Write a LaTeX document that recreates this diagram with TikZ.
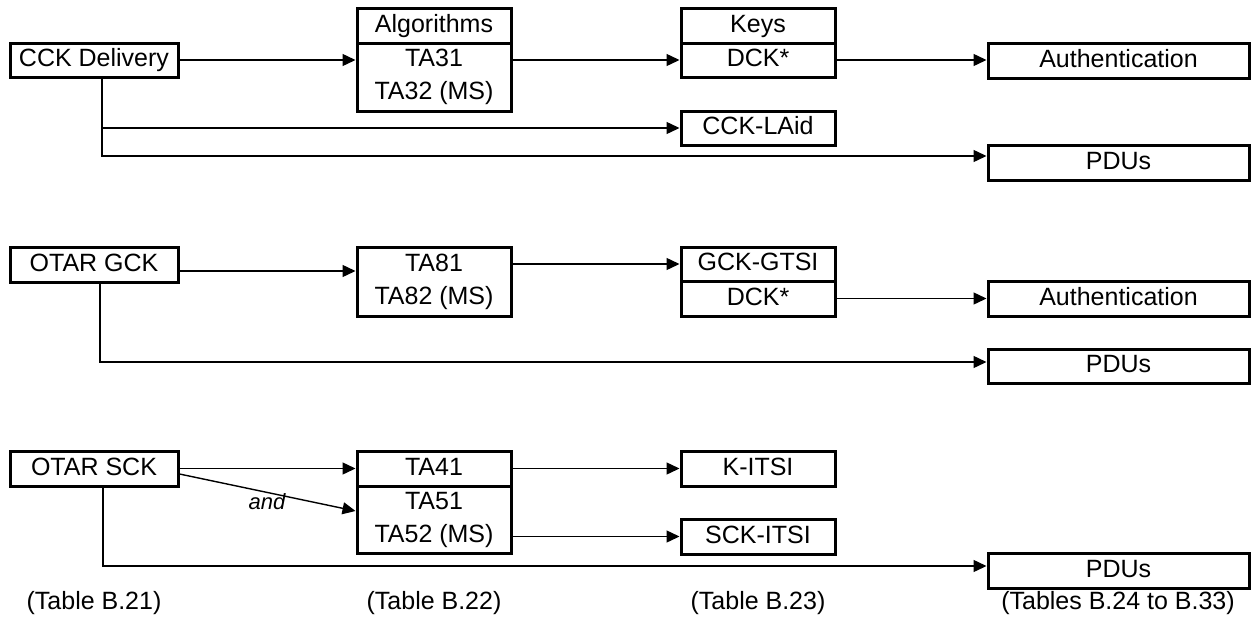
\documentclass[tikz,border=0pt]{standalone}
\usepackage{fontspec}
\setmainfont{Liberation Sans}
\usetikzlibrary{arrows.meta}
\tikzset{
  bx/.style={draw, line width=3pt, inner sep=0pt, font=\fontsize{25}{33}\selectfont},
  onebx/.style={bx, text height=18pt, text depth=5pt},
  twobx/.style={bx, align=center},
  conn/.style={line width=1.4pt, -{Triangle[length=13pt,width=12pt]}},
  lbl/.style={font=\fontsize{25}{30}\selectfont, inner sep=0pt},
  andlbl/.style={font=\itshape\fontsize{22}{26}\selectfont, inner sep=0pt}
}
\begin{document}
\begin{tikzpicture}[x=1pt, y=-1pt]
\useasboundingbox (0,0) rectangle (1252,621);
% Row 1
\node[onebx, minimum width=168pt, minimum height=34pt] (cck) at (94,60) {CCK Delivery};
\node[onebx, minimum width=154pt, minimum height=35pt] (alghead) at (434,25.5) {Algorithms};
\node[twobx, minimum width=154pt, minimum height=68pt] (algbody) at (434,77) {TA31\\TA32 (MS)};
\node[onebx, minimum width=154pt, minimum height=35pt] (keyshead) at (758,25.5) {Keys};
\node[onebx, minimum width=154pt, minimum height=34pt] (keysbody) at (758,60) {DCK*};
\node[onebx, minimum width=261pt, minimum height=35pt] (auth1) at (1118.5,60.5) {Authentication};
\node[onebx, minimum width=154pt, minimum height=34pt] (laid) at (758,128) {CCK-LAid};
\node[onebx, minimum width=261pt, minimum height=35pt] (pdu1) at (1118.5,162.5) {PDUs};
% Row 2
\node[onebx, minimum width=168pt, minimum height=35pt] (gck) at (94,264.5) {OTAR GCK};
\node[twobx, minimum width=154pt, minimum height=69pt] (ta8) at (434,281.5) {TA81\\TA82 (MS)};
\node[onebx, minimum width=154pt, minimum height=34pt] (gtsi) at (758,264) {GCK-GTSI};
\node[onebx, minimum width=154pt, minimum height=35pt] (dck2) at (758,298.5) {DCK*};
\node[onebx, minimum width=261pt, minimum height=35pt] (auth2) at (1118.5,298.5) {Authentication};
\node[onebx, minimum width=261pt, minimum height=34pt] (pdu2) at (1118.5,366) {PDUs};
% Row 3
\node[onebx, minimum width=168pt, minimum height=35pt] (sck) at (94,468.5) {OTAR SCK};
\node[onebx, minimum width=154pt, minimum height=35pt] (ta41) at (434,468.5) {TA41};
\node[twobx, minimum width=154pt, minimum height=67pt] (ta5) at (434,519.5) {TA51\\TA52 (MS)};
\node[onebx, minimum width=154pt, minimum height=35pt] (kitsi) at (758,468.5) {K-ITSI};
\node[onebx, minimum width=154pt, minimum height=35pt] (sckitsi) at (758,536.5) {SCK-ITSI};
\node[onebx, minimum width=261pt, minimum height=35pt] (pdu3) at (1118.5,570.5) {PDUs};
% Bottom labels
\node[lbl] (t21) at (94,603) {(Table B.21)};
\node[lbl] (t22) at (434,603) {(Table B.22)};
\node[lbl] (t23) at (758,603) {(Table B.23)};
\node[lbl] (t24) at (1118,603) {(Tables B.24 to B.33)};
% Connectors row 1
\draw[conn] (cck.east) -- (cck.east -| algbody.west);
\draw[conn] (algbody.east |- keysbody) -- (keysbody.west);
\draw[conn] (keysbody.east) -- (keysbody.east -| auth1.west);
\coordinate (v1) at ([xshift=8pt]cck.south);
\draw[conn] (v1) |- (laid.west);
\draw[conn] (v1) |- ([yshift=6.5pt]pdu1.west);
% Connectors row 2
\draw[conn] ([yshift=-6.5pt]gck.east) -- ([yshift=-6.5pt]gck.east -| ta8.west);
\draw[conn] (ta8.east |- gtsi) -- (gtsi.west);
\draw[conn] (dck2.east) -- (auth2.west);
\coordinate (v2) at ([xshift=6pt]gck.south);
\draw[conn] (v2) |- ([yshift=4pt]pdu2.west);
% Connectors row 3
\draw[conn] (sck.east) -- (ta41.west);
\draw[conn] ([yshift=-5.5pt]sck.east) -- ([yshift=8.5pt]ta5.west);
\node[andlbl] (andtxt) at (267,501.5) {and};
\draw[conn] (ta41.east) -- (kitsi.west);
\draw[conn] (ta5.east |- sckitsi) -- (sckitsi.west);
\coordinate (v3) at ([xshift=9pt]sck.south);
\draw[conn] (v3) |- ([yshift=4.5pt]pdu3.west);
\end{tikzpicture}
\end{document}
